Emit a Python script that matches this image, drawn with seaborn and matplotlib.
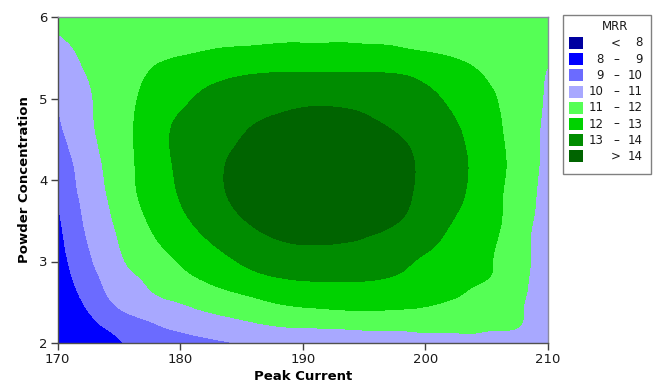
import numpy as np
import matplotlib
matplotlib.use("Agg")
import matplotlib.pyplot as plt
import matplotlib.tri as mtri
from matplotlib.patches import Rectangle
import seaborn as sns

# ---- data (MRR response surface) ----
peak_current = [170, 172, 174, 176, 178, 180, 183, 186, 190, 194, 198, 201, 204, 206, 208, 210]
powder_conc = [2.0, 2.2, 2.4, 2.6, 2.8, 3.0, 3.4, 3.8, 4.2, 4.6, 5.0, 5.3, 5.6, 5.8, 6.0]

mrr_c20 = [8.15, 8.45, 8.75, 9.10, 9.35, 9.60, 9.88, 10.15, 10.45, 10.65, 10.78, 10.85, 10.85, 10.80, 10.65, 10.25]
mrr_c22 = [8.18, 8.60, 9.06, 9.48, 9.90, 10.18, 10.50, 10.80, 11.05, 11.12, 11.15, 11.17, 11.15, 11.07, 10.95, 10.35]
mrr_c24 = [8.22, 8.82, 9.60, 10.15, 10.44, 10.73, 11.15, 11.50, 11.85, 12.00, 11.95, 11.80, 11.60, 11.35, 11.00, 10.40]
mrr_c26 = [8.30, 9.13, 10.00, 10.50, 11.00, 11.30, 11.75, 12.12, 12.50, 12.62, 12.45, 12.22, 11.83, 11.45, 11.06, 10.40]
mrr_c28 = [8.40, 9.38, 10.21, 10.82, 11.30, 11.74, 12.26, 12.75, 13.10, 13.12, 12.90, 12.52, 12.20, 11.78, 11.15, 10.45]
mrr_c30 = [8.55, 9.58, 10.46, 11.14, 11.60, 12.06, 12.67, 13.25, 13.60, 13.55, 13.15, 12.75, 12.35, 11.85, 11.20, 10.50]
mrr_c34 = [8.75, 9.90, 10.75, 11.47, 12.12, 12.65, 13.40, 13.97, 14.30, 14.24, 13.85, 13.22, 12.50, 12.03, 11.25, 10.55]
mrr_c38 = [9.10, 10.13, 10.98, 11.80, 12.45, 13.05, 13.83, 14.34, 14.67, 14.61, 14.16, 13.55, 12.75, 12.10, 11.40, 10.60]
mrr_c42 = [9.45, 10.30, 11.15, 11.90, 12.55, 13.20, 13.87, 14.38, 14.71, 14.65, 14.20, 13.61, 12.85, 12.20, 11.50, 10.70]
mrr_c46 = [9.80, 10.60, 11.30, 11.93, 12.60, 13.20, 13.62, 14.09, 14.42, 14.37, 13.92, 13.45, 12.70, 12.10, 11.42, 10.80]
mrr_c50 = [10.10, 10.75, 11.30, 11.85, 12.40, 12.80, 13.30, 13.55, 13.81, 13.77, 13.45, 13.05, 12.45, 11.95, 11.40, 10.90]
mrr_c53 = [10.50, 10.93, 11.35, 11.75, 12.12, 12.40, 12.75, 12.99, 13.07, 13.07, 12.98, 12.60, 12.12, 11.70, 11.35, 10.95]
mrr_c56 = [10.80, 11.10, 11.40, 11.60, 11.75, 11.85, 12.02, 12.10, 12.15, 12.15, 12.05, 11.90, 11.70, 11.55, 11.40, 11.15]
mrr_c58 = [11.00, 11.20, 11.35, 11.45, 11.55, 11.65, 11.75, 11.82, 11.87, 11.87, 11.83, 11.75, 11.60, 11.50, 11.38, 11.25]
mrr_c60 = [11.15, 11.30, 11.40, 11.50, 11.55, 11.60, 11.65, 11.70, 11.72, 11.72, 11.70, 11.65, 11.55, 11.50, 11.42, 11.35]

level_bounds = [0, 8, 9, 10, 11, 12, 13, 14, 100]
legend_low = ["", "8", "9", "10", "11", "12", "13", ""]
legend_mid = ["<", "\u2013", "\u2013", "\u2013", "\u2013", "\u2013", "\u2013", ">"]
legend_high = ["8", "9", "10", "11", "12", "13", "14", "14"]
band_colors = ["#0000A0", "#0000FF", "#6B6BFF", "#A8A8FF",
               "#55FF55", "#00D200", "#008C00", "#006400"]

# ---- styling ----
sns.set_theme(style="white")
plt.rcParams["font.family"] = ["DejaVu Sans"]

W, H = 654, 386
fig = plt.figure(figsize=(W / 100, H / 100), dpi=100)
fx = lambda px: px / W
fy = lambda py: 1 - py / H

ax = fig.add_axes([fx(57.5), fy(343), fx(548) - fx(57.5), fy(17) - fy(343)])

Z = np.array([mrr_c20, mrr_c22, mrr_c24, mrr_c26, mrr_c28, mrr_c30, mrr_c34,
              mrr_c38, mrr_c42, mrr_c46, mrr_c50, mrr_c53, mrr_c56, mrr_c58, mrr_c60])
Xg, Yg = np.meshgrid(peak_current, powder_conc)
# normalise y so the triangulation is well-conditioned, then smooth-draw the surface
tri = mtri.Triangulation(Xg.ravel(), Yg.ravel() * 10.0)
interp = mtri.CubicTriInterpolator(tri, Z.ravel(), kind="min_E")
tri_ref, z_ref = mtri.UniformTriRefiner(tri).refine_field(Z.ravel(), triinterpolator=interp, subdiv=3)
tri_plot = mtri.Triangulation(tri_ref.x, tri_ref.y / 10.0, tri_ref.triangles)
ax.tricontourf(tri_plot, z_ref, levels=level_bounds, colors=band_colors)

ax.set_xlim(170, 210)
ax.set_ylim(2, 6)
ax.set_xticks([170, 180, 190, 200, 210])
ax.set_yticks([2, 3, 4, 5, 6])
ax.tick_params(axis="both", direction="out", length=5, width=1, color="#404040",
               labelsize=9.5, labelcolor="#1a1a1a", pad=2, bottom=True, left=True)
for s in ["left", "bottom"]:
    ax.spines[s].set_color("#505050")
    ax.spines[s].set_linewidth(1)
for s in ["top", "right"]:
    ax.spines[s].set_color("#8a8aa0")
    ax.spines[s].set_linewidth(1)
ax.set_xlabel("Peak Current", fontsize=9.5, fontweight="bold", labelpad=3, color="black")
ax.set_ylabel("Powder Concentration", fontsize=9.5, fontweight="bold", labelpad=6, color="black")

# ---- legend box ----
fig.patches.append(Rectangle((fx(563), fy(174)), fx(651) - fx(563), fy(15) - fy(174),
                             transform=fig.transFigure, facecolor="white",
                             edgecolor="#808080", linewidth=1))
fig.text(fx(615), fy(27), "MRR", ha="center", va="center", fontsize=8.5, color="#1a1a1a")
for i in range(len(band_colors)):
    yc = 43 + i * 16.2
    fig.patches.append(Rectangle((fx(569), fy(yc + 6)), fx(583) - fx(569), fy(yc - 6) - fy(yc + 6),
                                 transform=fig.transFigure, facecolor=band_colors[i],
                                 edgecolor="none"))
    if legend_low[i]:
        fig.text(fx(604), fy(yc), legend_low[i], ha="right", va="center", fontsize=8.5, color="#1a1a1a")
    fig.text(fx(616), fy(yc), legend_mid[i], ha="center", va="center", fontsize=8.5, color="#1a1a1a")
    fig.text(fx(643), fy(yc), legend_high[i], ha="right", va="center", fontsize=8.5, color="#1a1a1a")

fig.savefig("out.png", dpi=100)
